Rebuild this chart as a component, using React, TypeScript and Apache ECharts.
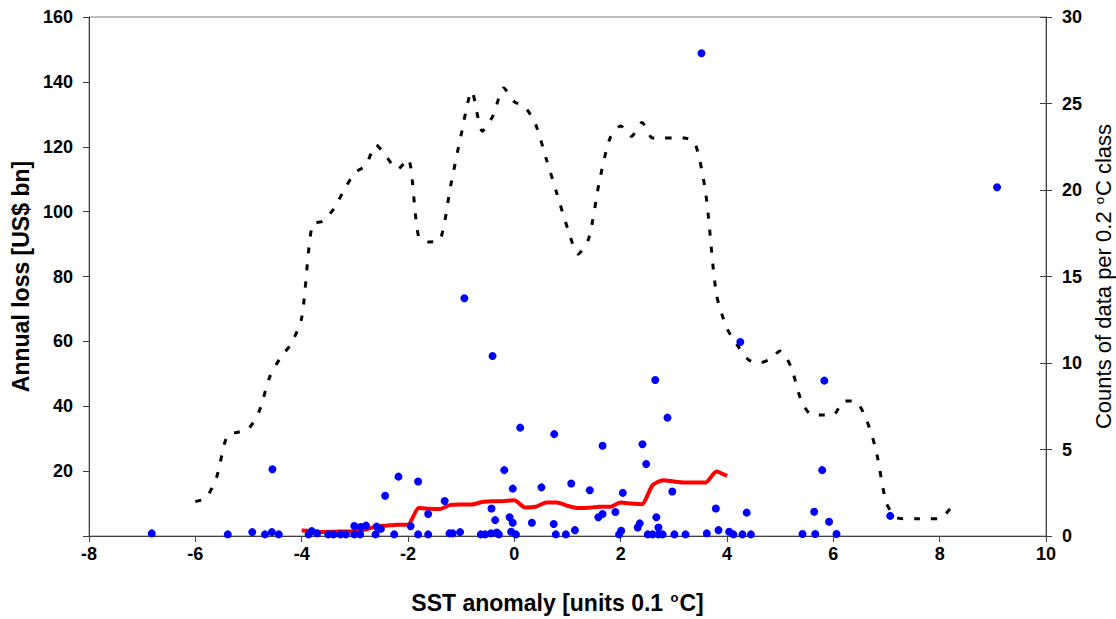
import React, { useEffect, useRef } from "react";
import * as echarts from "echarts";

// Dashed line: counts of data per 0.2 °C class (right axis)
const countX = [-6.0, -5.8, -5.6, -5.4, -5.2, -5.0, -4.8, -4.6, -4.4, -4.2, -4.0, -3.8, -3.6, -3.4, -3.2, -3.0, -2.8, -2.6, -2.4, -2.2, -2.0, -1.8, -1.6, -1.4, -1.2, -1.0, -0.8, -0.6, -0.4, -0.2, 0.0, 0.2, 0.4, 0.6, 0.8, 1.0, 1.2, 1.4, 1.6, 1.8, 2.0, 2.2, 2.4, 2.6, 2.8, 3.0, 3.2, 3.4, 3.6, 3.8, 4.0, 4.2, 4.4, 4.6, 4.8, 5.0, 5.2, 5.4, 5.6, 5.8, 6.0, 6.2, 6.4, 6.6, 6.8, 7.0, 7.2, 7.4, 7.6, 7.8, 8.0, 8.2];
const countY = [2.0, 2.2, 3.4, 5.8, 6.0, 6.2, 7.2, 9.2, 10.3, 11.1, 12.6, 18.0, 18.2, 18.9, 20.0, 21.0, 21.4, 22.6, 21.9, 21.2, 21.8, 17.3, 17.0, 17.1, 20.2, 23.2, 25.7, 23.4, 24.3, 25.9, 25.1, 24.8, 23.8, 21.8, 19.8, 17.8, 16.3, 17.2, 20.5, 23.0, 23.7, 23.1, 23.9, 23.0, 23.0, 23.0, 23.0, 22.7, 19.8, 14.0, 12.0, 11.0, 10.2, 10.0, 10.2, 10.7, 9.8, 7.8, 7.0, 7.0, 7.0, 7.8, 7.8, 6.9, 5.0, 1.9, 1.05, 1.0, 1.0, 1.0, 1.0, 1.6];

// Red line: running mean of annual loss (left axis)
const meanX = [-4.0, -3.8, -3.6, -3.4, -3.2, -3.0, -2.8, -2.6, -2.4, -2.2, -2.0, -1.8, -1.6, -1.4, -1.2, -1.0, -0.8, -0.6, -0.4, -0.2, 0.0, 0.2, 0.4, 0.6, 0.8, 1.0, 1.2, 1.4, 1.6, 1.8, 2.0, 2.2, 2.4, 2.6, 2.8, 3.0, 3.2, 3.4, 3.6, 3.8, 4.0];
const meanY = [1.7, 1.5, 1.2, 1.3, 1.4, 1.5, 2.0, 2.9, 3.2, 3.5, 3.5, 8.6, 8.4, 8.3, 9.6, 9.7, 9.7, 10.5, 10.7, 10.8, 11.0, 8.8, 9.0, 10.3, 10.3, 9.3, 8.6, 8.7, 9.0, 9.0, 10.3, 10.0, 9.8, 15.7, 17.2, 16.8, 16.5, 16.5, 16.5, 19.9, 18.5];

// Blue dots: annual loss vs SST anomaly
const lossX = [-6.82, -5.39, -4.93, -4.69, -4.56, -4.55, -4.43, -3.87, -3.81, -3.71, -3.50, -3.40, -3.27, -3.17, -3.01, -3.01, -2.90, -2.89, -2.79, -2.61, -2.59, -2.51, -2.43, -2.26, -2.18, -1.95, -1.81, -1.81, -1.62, -1.62, -1.31, -1.22, -1.16, -1.02, -0.94, -0.63, -0.55, -0.44, -0.43, -0.41, -0.36, -0.33, -0.29, -0.19, -0.09, -0.06, -0.03, -0.03, 0.03, 0.11, 0.33, 0.51, 0.74, 0.75, 0.78, 0.97, 1.07, 1.14, 1.42, 1.58, 1.66, 1.66, 1.90, 1.97, 2.01, 2.04, 2.32, 2.36, 2.41, 2.48, 2.51, 2.60, 2.65, 2.67, 2.71, 2.71, 2.79, 2.88, 2.97, 3.01, 3.22, 3.52, 3.62, 3.79, 3.84, 4.04, 4.12, 4.25, 4.29, 4.37, 4.45, 5.42, 5.64, 5.66, 5.79, 5.83, 5.92, 6.06, 7.07, 9.08];
const lossY = [0.8, 0.5, 1.2, 0.5, 1.2, 20.6, 0.5, 0.5, 1.5, 0.8, 0.5, 0.5, 0.5, 0.5, 3.1, 0.5, 0.5, 2.8, 3.2, 0.5, 2.9, 2.2, 12.4, 0.5, 18.3, 3.0, 16.8, 0.5, 0.5, 6.8, 10.8, 0.8, 0.8, 1.2, 73.3, 0.5, 0.5, 0.8, 8.5, 55.5, 4.9, 1.1, 0.5, 20.3, 5.8, 1.3, 4.1, 14.6, 0.5, 33.4, 4.1, 15.0, 3.7, 31.4, 0.5, 0.5, 16.2, 1.8, 14.1, 5.8, 6.8, 27.8, 7.4, 0.5, 1.6, 13.3, 2.6, 3.9, 28.3, 22.2, 0.5, 0.5, 48.1, 5.8, 2.6, 0.5, 0.5, 36.5, 13.7, 0.5, 0.5, 148.8, 0.8, 8.5, 1.8, 1.3, 0.5, 59.8, 0.5, 7.2, 0.5, 0.6, 7.5, 0.6, 20.3, 47.9, 4.4, 0.6, 6.2, 107.5];

const FONT = "'Liberation Sans', Arial, sans-serif";

export default function App() {
  const ref = useRef<HTMLDivElement>(null);
  useEffect(() => {
    document.body.style.margin = "0";
    const chart = echarts.init(ref.current!, undefined, { renderer: "svg" });
    const sup = (bold: boolean) => ({
      sup: {
        fontSize: 13,
        fontWeight: bold ? "bold" : "normal",
        fontFamily: FONT,
        color: "#000",
        verticalAlign: "top",
        padding: [0, 1, 9, 1],
      },
    });
    chart.setOption({
      animation: false,
      backgroundColor: "#ffffff",
      grid: {
        left: 89,
        right: 70,
        top: 17,
        bottom: 83,
        show: true,
        borderColor: "#808080",
        borderWidth: 1,
        outerBoundsMode: "none",
        containLabel: false,
      },
      xAxis: {
        type: "value",
        min: -8,
        max: 10,
        interval: 2,
        name: "SST anomaly [units 0.1 {sup|o}C]",
        nameLocation: "middle",
        nameGap: 55,
        nameTextStyle: {
          fontFamily: FONT,
          fontWeight: "bold",
          fontSize: 23,
          color: "#000",
          padding: [0, 20, 0, 0],
          rich: sup(true),
        },
        axisLine: { onZero: false, lineStyle: { color: "#404040", width: 1 } },
        axisTick: { show: true, length: 6, lineStyle: { color: "#404040" } },
        axisLabel: { fontFamily: FONT, fontWeight: "bold", fontSize: 18, color: "#000", margin: 9 },
        splitLine: { show: false },
      },
      yAxis: [
        {
          type: "value",
          min: 0,
          max: 160,
          interval: 20,
          position: "left",
          name: "Annual loss [US$ bn]",
          nameLocation: "middle",
          nameGap: 50,
          nameRotate: 90,
          nameTextStyle: { fontFamily: FONT, fontWeight: "bold", fontSize: 23, color: "#000" },
          axisLine: { show: true, onZero: false, lineStyle: { color: "#404040", width: 1 } },
          axisTick: { show: true, length: 6, lineStyle: { color: "#404040" } },
          axisLabel: {
            fontFamily: FONT,
            fontWeight: "bold",
            fontSize: 18,
            color: "#000",
            margin: 16,
            formatter: (v: number) => (v === 0 ? "" : String(v)),
          },
          splitLine: { show: false },
        },
        {
          type: "value",
          min: 0,
          max: 30,
          interval: 5,
          position: "right",
          name: "Counts of data per 0.2 {sup|o}C class",
          nameLocation: "middle",
          nameGap: 44,
          nameRotate: 90,
          nameTextStyle: { fontFamily: FONT, fontSize: 22, color: "#000", rich: sup(false) },
          axisLine: { show: true, onZero: false, lineStyle: { color: "#404040", width: 1 } },
          axisTick: { show: true, length: 6, lineStyle: { color: "#404040" } },
          axisLabel: { fontFamily: FONT, fontWeight: "bold", fontSize: 18, color: "#000", margin: 16 },
          splitLine: { show: false },
        },
        {
          type: "value",
          min: 0,
          max: 30,
          interval: 5,
          position: "right",
          axisLine: { show: false, onZero: false },
          axisTick: { show: true, inside: true, length: 6, lineStyle: { color: "#404040" } },
          axisLabel: { show: false },
          splitLine: { show: false },
        },
      ],
      series: [
        {
          type: "line",
          yAxisIndex: 1,
          data: countX.map((x, i) => [x, countY[i]]),
          showSymbol: false,
          smooth: 0.25,
          lineStyle: { color: "#000000", width: 3, type: [6, 11] },
          z: 2,
        },
        {
          type: "line",
          yAxisIndex: 0,
          data: meanX.map((x, i) => [x, meanY[i]]),
          showSymbol: false,
          smooth: 0.2,
          lineStyle: { color: "#ff0000", width: 4 },
          z: 3,
        },
        {
          type: "scatter",
          yAxisIndex: 0,
          data: lossX.map((x, i) => [x, lossY[i]]),
          symbol: "circle",
          symbolSize: 8,
          itemStyle: { color: "#0000ff", opacity: 1 },
          z: 4,
        },
      ],
    });
    return () => chart.dispose();
  }, []);
  return (
    <div
      ref={ref}
      style={{ position: "fixed", left: 0, top: 0, width: 1116, height: 619 }}
    />
  );
}
